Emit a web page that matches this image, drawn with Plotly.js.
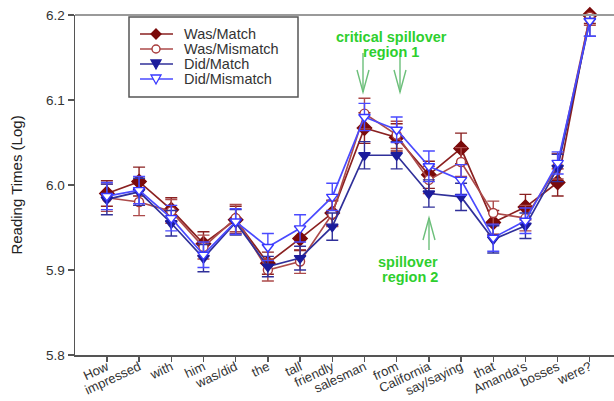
<!DOCTYPE html>
<html>
<head>
<meta charset="utf-8">
<script src="https://cdn.plot.ly/plotly-3.0.1.min.js"></script>
<style>html,body{margin:0;padding:0;background:#fff;overflow:hidden}#chart{width:614px;height:401px}</style>
</head>
<body>
<div id="chart"></div>
<script>
var labels = ["How","impressed","with","him","was/did","the","tall","friendly","salesman","from","California","say/saying","that","Amanda's","bosses","were?"];
var wasMatch    = [5.990, 6.004, 5.971, 5.931, 5.959, 5.908, 5.937, 5.967, 6.067, 6.056, 6.012, 6.043, 5.956, 5.974, 6.003, 6.200];
var wasMismatch = [5.985, 5.980, 5.969, 5.927, 5.961, 5.900, 5.910, 5.966, 6.084, 6.059, 6.006, 6.027, 5.967, 5.961, 6.022, 6.198];
var didMatch    = [5.983, 5.992, 5.955, 5.914, 5.956, 5.904, 5.914, 5.951, 6.035, 6.035, 5.990, 5.986, 5.936, 5.952, 6.020, 6.193];
var didMismatch = [5.987, 5.994, 5.961, 5.918, 5.957, 5.927, 5.949, 5.986, 6.080, 6.065, 6.022, 6.006, 5.938, 5.958, 6.026, 6.193];
var wasMatchErr    = [0.015,0.017,0.014,0.014,0.016,0.013,0.014,0.015,0.018,0.016,0.016,0.018,0.014,0.015,0.016,0.010];
var wasMismatchErr = [0.016,0.016,0.014,0.014,0.016,0.013,0.014,0.015,0.018,0.016,0.016,0.017,0.014,0.015,0.015,0.010];
var didMatchErr    = [0.018,0.016,0.015,0.016,0.015,0.012,0.014,0.016,0.016,0.016,0.016,0.016,0.016,0.015,0.016,0.018];
var didMismatchErr = [0.016,0.016,0.015,0.015,0.015,0.016,0.016,0.016,0.016,0.015,0.018,0.018,0.016,0.015,0.013,0.018];
var seriesNames = ["Was/Match","Was/Mismatch","Did/Match","Did/Mismatch"];

var idx = labels.map(function(_, i){ return i; });

var styles = [
  {mk:'#7a0a0a', ln:'#8a2020', sym:'diamond', size:11, fill:'#7a0a0a'},
  {mk:'#a83c3c', ln:'#ac4a4a', sym:'circle', size:9, fill:'#ffffff'},
  {mk:'#1c1c9c', ln:'#30309a', sym:'triangle-down', size:10, fill:'#1c1c9c'},
  {mk:'#3838ff', ln:'#4a4aff', sym:'triangle-down', size:10, fill:'#ffffff'}
];
var ys = [wasMatch, wasMismatch, didMatch, didMismatch];
var errs = [wasMatchErr, wasMismatchErr, didMatchErr, didMismatchErr];

var data = seriesNames.map(function(name, k){
  var s = styles[k];
  return {
    type: 'scatter', mode: 'lines+markers', name: name, x: idx, y: ys[k],
    line: {color: s.ln, width: 1.7},
    marker: {symbol: s.sym, size: s.size, color: s.fill, line: {color: s.mk, width: 1.4}},
    error_y: {type: 'data', array: errs[k], visible: true, color: s.ln, thickness: 1.4, width: 6},
    cliponaxis: false, showlegend: false
  };
});

// pixel -> paper helpers (plot area 75..614 x 15..355)
function PX(px){ return (px - 75) / 539; }
function PY(py){ return (355 - py) / 340; }
function ypx(py){ return 5.8 + (355 - py) / 850; }
function xpx(px){ return (px - 107) / 32.2; }
var green = '#2ecf2e', arrowGreen = '#6cbf7a';
function arrow(px, pTail, pTip){
  var dir = pTip > pTail ? 1 : -1;
  var hw = 6;
  return [
    {type:'line', xref:'paper', yref:'paper', x0:PX(px), x1:PX(px), y0:PY(pTail), y1:PY(pTip), line:{color:arrowGreen, width:1.4}},
    {type:'path', xref:'paper', yref:'paper',
     path:'M'+PX(px-hw)+','+PY(pTip-dir*22)+' L'+PX(px)+','+PY(pTip)+' L'+PX(px+hw)+','+PY(pTip-dir*22),
     line:{color:arrowGreen, width:1.4}}
  ];
}
var shapes = [
  {type:'line', xref:'paper', yref:'paper', x0:0, x1:1, y0:1, y1:1, line:{color:'#9a9a9a', width:2}}
].concat(arrow(363, 53, 92), arrow(400, 53, 92), arrow(429, 250, 218));

// legend box
shapes.push({type:'rect', xref:'paper', yref:'paper', x0:PX(129), x1:PX(298), y0:PY(97), y1:PY(17),
             line:{color:'#555', width:1.5}, fillcolor:'#fff'});
var annotations = [];
var rowY = [34, 49, 64, 79];
seriesNames.forEach(function(name, k){
  var s = styles[k], py = rowY[k], cx = 156;
  shapes.push({type:'line', xref:'paper', yref:'paper', x0:PX(140), x1:PX(173), y0:PY(py), y1:PY(py), line:{color:s.ln, width:1.5}});
  var p;
  if (s.sym === 'diamond') {
    p = 'M'+PX(cx)+','+PY(py-5)+' L'+PX(cx+5)+','+PY(py)+' L'+PX(cx)+','+PY(py+5)+' L'+PX(cx-5)+','+PY(py)+' Z';
  } else if (s.sym === 'circle') {
    p = null;
    shapes.push({type:'circle', xref:'paper', yref:'paper', x0:PX(cx-4), x1:PX(cx+4), y0:PY(py+4), y1:PY(py-4),
                 line:{color:s.mk, width:1.4}, fillcolor:s.fill});
  } else {
    p = 'M'+PX(cx-5)+','+PY(py-4)+' L'+PX(cx+5)+','+PY(py-4)+' L'+PX(cx)+','+PY(py+5)+' Z';
  }
  if (p) shapes.push({type:'path', xref:'paper', yref:'paper', path:p, line:{color:s.mk, width:1.3}, fillcolor:s.fill});
  annotations.push({xref:'paper', yref:'paper', x:PX(182), y:PY(py), xanchor:'left', yanchor:'middle',
                    text:name, showarrow:false, font:{size:14.5, color:'#333'}});
});

annotations.push(
  {xref:'paper', yref:'paper', x:PX(391), y:PY(27), text:'<b>critical spillover</b>', showarrow:false, font:{size:14.5, color:green}},
  {xref:'paper', yref:'paper', x:PX(391), y:PY(42), text:'<b>region 1</b>', showarrow:false, xanchor:'center', font:{size:14.5, color:green}},
  {xref:'paper', yref:'paper', x:PX(440), y:PY(272), text:'<b>spillover</b>', showarrow:false, font:{size:14.5, color:green}},
  {xref:'paper', yref:'paper', x:PX(440), y:PY(287), text:'<b>region 2</b>', showarrow:false, font:{size:14.5, color:green}}
);

var layout = {
  width: 614, height: 401,
  margin: {l: 75, r: 0, t: 15, b: 46, pad: 0},
  paper_bgcolor: '#fff', plot_bgcolor: '#fff',
  font: {family: 'Liberation Sans, Arial, sans-serif', color: '#333'},
  showlegend: false,
  xaxis: {range: [-0.99, 15.75], tickmode: 'array', tickvals: idx, ticktext: labels, tickangle: -25,
          showgrid: false, zeroline: false, showline: true, linecolor: '#555', linewidth: 1.5,
          ticks: 'outside', ticklen: 5, tickcolor: '#555', tickwidth: 1.3, ticklabelstandoff: -7,
          tickfont: {size: 13, color: '#333'}, fixedrange: true},
  yaxis: {range: [5.8, 6.2], tickvals: [5.8, 5.9, 6.0, 6.1, 6.2], ticktext: ['5.8','5.9','6.0','6.1','6.2'],
          showgrid: false, zeroline: false, showline: true, linecolor: '#555', linewidth: 1.5,
          ticks: 'outside', ticklen: 6, tickcolor: '#555', tickwidth: 1.3,
          tickfont: {size: 13.5, color: '#333'},
          title: {text: 'Reading Times (Log)', font: {size: 15, color: '#222'}, standoff: 20}},
  shapes: shapes,
  annotations: annotations
};

Plotly.newPlot('chart', data, layout, {displayModeBar: false, staticPlot: true});
</script>
</body>
</html>
